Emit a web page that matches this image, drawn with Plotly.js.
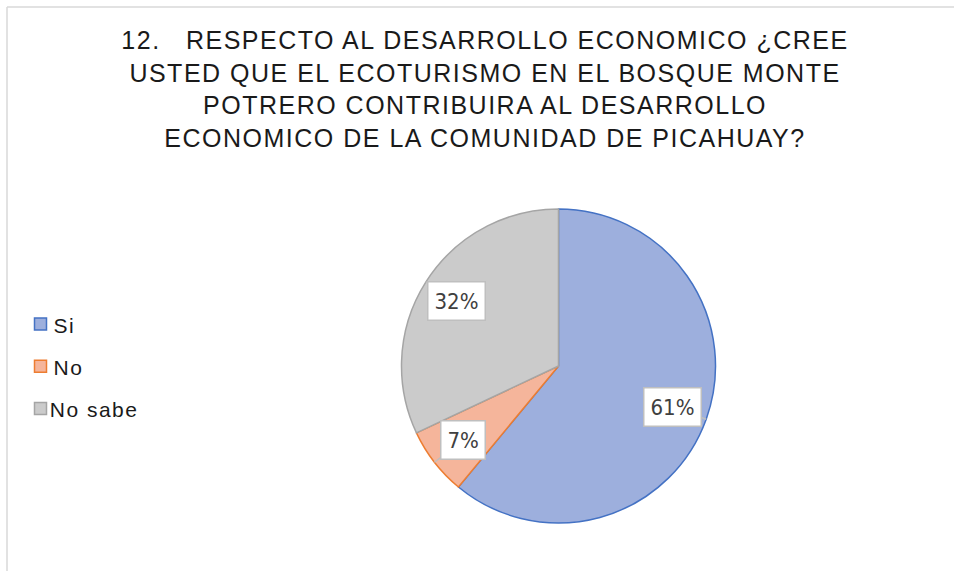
<!DOCTYPE html>
<html>
<head>
<meta charset="utf-8">
<script src="https://cdn.plot.ly/plotly-3.0.1.min.js"></script>
<style>
  html, body { margin: 0; padding: 0; background: #fff; }
  #chart { width: 954px; height: 571px; }
  .gtitle { letter-spacing: 1.5px; }
  .annotation[data-index="0"] text, .annotation[data-index="1"] text, .annotation[data-index="2"] text { letter-spacing: 1.5px; }
</style>
</head>
<body>
<div id="chart"></div>
<script>
// ---- data ----
const titleLines = [
  '12.   RESPECTO AL DESARROLLO ECONOMICO ¿CREE',
  'USTED QUE EL ECOTURISMO EN EL BOSQUE MONTE',
  'POTRERO CONTRIBUIRA AL DESARROLLO',
  'ECONOMICO DE LA COMUNIDAD DE PICAHUAY?'
];
const labels = ['Si', 'No', 'No sabe'];
const values = [61, 7, 32];
const fillColors = ['#9dafdd', '#f5b59b', '#cbcbcb'];
const lineColors = ['#4472c4', '#ed7d31', '#a5a5a5'];

// ---- layout geometry (pixels) ----
const W = 954, H = 571;
const PIE = { cx: 558.5, cy: 366, r: 157, labelK: 0.77 };
const LEG = { x: 34.5, y0: 324, dy: 42.3, sym: 12, textX: 53 };

const px = x => x / W;
const py = y => 1 - y / H;

const total = values.reduce((a, b) => a + b, 0);
const pcts = values.map(v => Math.round(v / total * 100) + '%');

const annotations = [];
const shapes = [];

// manual legend (annotation indices 0..2)
labels.forEach((lab, i) => {
  const cy = LEG.y0 + i * LEG.dy;
  annotations.push({
    xref: 'paper', yref: 'paper', x: px(LEG.textX), y: py(cy + 1),
    xanchor: 'left', yanchor: 'middle', showarrow: false,
    text: lab, font: { family: 'Liberation Sans, Arial, sans-serif', size: 21, color: '#1a1a1a' }
  });
  shapes.push({
    type: 'rect', xref: 'paper', yref: 'paper',
    x0: px(LEG.x), x1: px(LEG.x + LEG.sym), y0: py(cy + LEG.sym / 2), y1: py(cy - LEG.sym / 2),
    fillcolor: fillColors[i], line: { color: lineColors[i], width: 1.5 }
  });
});

// percentage labels with leader lines, placed along each slice's mid-angle
let cum = 0;
values.forEach((v, i) => {
  const f = (cum + v / 2) / total;
  cum += v;
  const th = 2 * Math.PI * f;
  const ex = PIE.cx + PIE.r * Math.sin(th), ey = PIE.cy - PIE.r * Math.cos(th);
  const lx = PIE.cx + PIE.labelK * PIE.r * Math.sin(th), ly = PIE.cy - PIE.labelK * PIE.r * Math.cos(th);
  shapes.push({
    type: 'line', xref: 'paper', yref: 'paper', layer: 'above',
    x0: px(lx), y0: py(ly), x1: px(ex), y1: py(ey),
    line: { color: '#bfbfbf', width: 1.5 }
  });
  annotations.push({
    xref: 'paper', yref: 'paper', x: px(lx), y: py(ly),
    xanchor: 'center', yanchor: 'middle', showarrow: false,
    text: pcts[i],
    font: { family: 'Liberation Sans Narrow, DejaVu Sans Condensed, Arial Narrow, sans-serif', size: 22, color: '#404040' },
    bgcolor: '#ffffff', bordercolor: '#bfbfbf', borderwidth: 1.5, borderpad: 6
  });
});

// chart area frame
shapes.push({ type: 'line', xref: 'paper', yref: 'paper', x0: px(7), x1: px(7), y0: -0.05, y1: py(7), line: { color: '#d9d9d9', width: 1.5 } });
shapes.push({ type: 'line', xref: 'paper', yref: 'paper', x0: px(7), x1: 1.05, y0: py(7), y1: py(7), line: { color: '#d9d9d9', width: 1.5 } });

const trace = {
  type: 'pie',
  labels: labels,
  values: values,
  sort: false,
  direction: 'clockwise',
  rotation: 0,
  textinfo: 'none',
  hoverinfo: 'label+percent',
  marker: { colors: fillColors, line: { color: lineColors, width: 1.5 } },
  domain: { x: [px(PIE.cx - PIE.r), px(PIE.cx + PIE.r)], y: [py(PIE.cy + PIE.r), py(PIE.cy - PIE.r)] },
  showlegend: false
};

const layout = {
  width: W, height: H,
  margin: { l: 0, r: 0, t: 0, b: 0 },
  paper_bgcolor: '#ffffff',
  title: {
    text: titleLines.join('<br>'),
    font: { family: 'Liberation Sans, Arial, sans-serif', size: 25, color: '#1a1a1a' },
    x: px(485), xanchor: 'center', xref: 'paper',
    y: py(49), yanchor: 'top', yref: 'container'
  },
  showlegend: false,
  annotations: annotations,
  shapes: shapes
};

Plotly.newPlot('chart', [trace], layout, { displayModeBar: false, staticPlot: true });
</script>
</body>
</html>
